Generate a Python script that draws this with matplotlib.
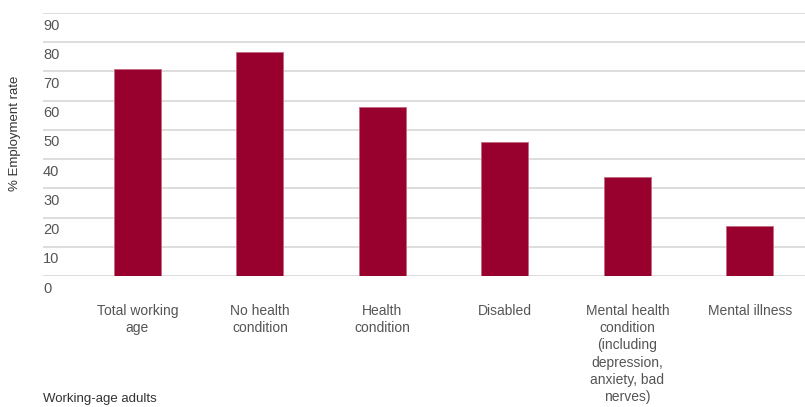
import numpy as np
import matplotlib.pyplot as plt

plt.rcParams['font.family'] = ['Liberation Sans Narrow', 'Liberation Sans', 'DejaVu Sans']

# categories and employment rates (%)
categories = ['Total working\nage', 'No health\ncondition', 'Health\ncondition', 'Disabled',
              'Mental health\ncondition\n(including\ndepression,\nanxiety, bad\nnerves)',
              'Mental illness']
rates = [71, 76.5, 58, 46, 34, 17]
yticks = [0, 10, 20, 30, 40, 50, 60, 70, 80, 90]

bar_color = '#98002e'
grid_color = '#d3d3d3'
text_color = '#555555'

fig = plt.figure(figsize=(8.05, 4.07), dpi=100)
ax = fig.add_axes([43 / 805, 1 - 276 / 407, 1 - 43 / 805, 263 / 407])

x = np.arange(len(categories))
ax.bar(x, rates, width=0.385, color=bar_color, edgecolor='#c56a80', linewidth=0.6, zorder=3)

ax.set_ylim(0, 90)
ax.set_xlim(-0.77, 5.45)
ax.set_yticks(yticks)
ax.yaxis.grid(True, color=grid_color, linewidth=1.1, zorder=0)
ax.tick_params(axis='y', length=0, labelleft=False)
for s in ax.spines.values():
    s.set_visible(False)

# y tick labels sit just under each gridline, inside the plot area
for v in yticks:
    ax.annotate(str(v), xy=(0, v), xycoords=('axes fraction', 'data'),
                xytext=(0, -4), textcoords='offset points',
                ha='left', va='top', fontsize=10.5, color=text_color)

ax.set_xticks(x)
ax.set_xticklabels(categories, fontsize=10, color=text_color, linespacing=1.3, va='top')
ax.tick_params(axis='x', length=0, pad=20)

fig.text(15 / 805, 1 - 133 / 407, '% Employment rate', rotation=90,
         ha='center', va='center', fontsize=9.5, color='#333333')
fig.text(43 / 805, 1 - 399 / 407, 'Working-age adults', ha='left', va='center',
         fontsize=9.5, color='#333333')

fig.savefig('out.png', dpi=100)
